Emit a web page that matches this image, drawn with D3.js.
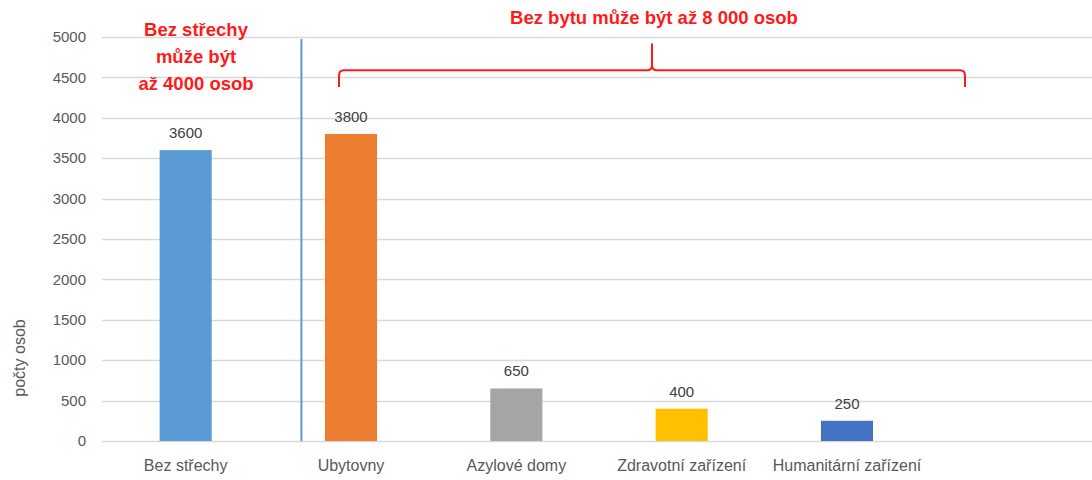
<!DOCTYPE html>
<html><head><meta charset="utf-8">
<script src="https://cdn.jsdelivr.net/npm/d3@7"></script>
<style>body{margin:0;background:#fff}svg{display:block}text{font-family:"Liberation Sans",Arial,sans-serif}</style>
</head><body>
<script>
const categories = ["Bez střechy","Ubytovny","Azylové domy","Zdravotní zařízení","Humanitární zařízení",""];
const values = [3600,3800,650,400,250,null];
const colors = ["#5b9bd5","#ed7d31","#a5a5a5","#ffc000","#4472c4","#ffffff"];
const yTicks = [0,500,1000,1500,2000,2500,3000,3500,4000,4500,5000];
const yTitle = "počty osob";
const note1 = ["Bez střechy","může být","až 4000 osob"];
const note2 = "Bez bytu může být až 8 000 osob";

const W=1092,H=480;
const m={left:103,right:-3,top:37,bottom:39};
const svg=d3.select("body").append("svg").attr("width",W).attr("height",H);
const x=d3.scaleBand().domain(categories).range([m.left,W-m.right]).padding(0);
const y=d3.scaleLinear().domain([0,5000]).range([H-m.bottom,m.top]);
const bw=x.bandwidth()*0.315;
const xc=c=>x(c)+x.bandwidth()/2;

// grid
svg.append("g").selectAll("line").data(yTicks).join("line")
  .attr("x1",102).attr("x2",W).attr("y1",d=>Math.round(y(d))+0.5).attr("y2",d=>Math.round(y(d))+0.5)
  .attr("stroke","#d9d9d9").attr("stroke-width",1.5);
// y tick labels
svg.append("g").selectAll("text").data(yTicks).join("text")
  .attr("x",86).attr("y",d=>y(d)).attr("dy","0.35em").attr("text-anchor","end")
  .attr("font-size",15).attr("fill","#595959").text(d=>d);
// y title
svg.append("text").attr("transform","translate(25,358) rotate(-90)").attr("text-anchor","middle")
  .attr("font-size",16).attr("fill","#595959").text(yTitle);

// bars
const data=categories.map((c,i)=>({c,v:values[i],col:colors[i]})).filter(d=>d.v!=null);
svg.append("g").selectAll("rect").data(data).join("rect")
  .attr("x",d=>xc(d.c)-bw/2).attr("width",bw)
  .attr("y",d=>y(d.v)).attr("height",d=>y(0)-y(d.v)).attr("fill",d=>d.col);
// value labels
svg.append("g").selectAll("text").data(data).join("text")
  .attr("x",d=>xc(d.c)).attr("y",d=>y(d.v)-12).attr("text-anchor","middle")
  .attr("font-size",15).attr("fill","#404040").text(d=>d.v);
// x labels
svg.append("g").selectAll("text").data(categories.filter(c=>c)).join("text")
  .attr("x",d=>xc(d)).attr("y",471).attr("text-anchor","middle")
  .attr("font-size",16).attr("fill","#595959").text(d=>d);

// separator line
const sepX=x("Ubytovny")+x.bandwidth()*0.2;
svg.append("line").attr("x1",sepX).attr("x2",sepX).attr("y1",y(4975)).attr("y2",y(0))
  .attr("stroke","#5b9bd5").attr("stroke-width",2);

// notes
svg.append("text").attr("text-anchor","middle").attr("font-size",18.5).attr("font-weight","bold").attr("fill","#ff1a1a")
  .selectAll("tspan").data(note1).join("tspan").attr("x",196).attr("y",(d,i)=>36+i*27).text(d=>d);
svg.append("text").attr("x",654).attr("y",24).attr("text-anchor","middle").attr("font-size",18.5)
  .attr("font-weight","bold").attr("fill","#ff1a1a").text(note2);

// brace
const bl=xc("Ubytovny")-12, br=xc("Humanitární zařízení")+118, bm=(bl+br)/2;
const by=y(4590), be=y(4380), bt=y(4920), r=5;
const p=d3.path();
p.moveTo(bl,be); p.lineTo(bl,by+r); p.quadraticCurveTo(bl,by,bl+r,by);
p.lineTo(bm-r,by); p.quadraticCurveTo(bm,by,bm,by-r); p.lineTo(bm,bt);
p.moveTo(bm,by-r); p.quadraticCurveTo(bm,by,bm+r,by);
p.lineTo(br-r,by); p.quadraticCurveTo(br,by,br,by+r); p.lineTo(br,be);
svg.append("path").attr("d",p.toString()).attr("fill","none").attr("stroke","#ff1a1a").attr("stroke-width",2);
</script>
</body></html>
